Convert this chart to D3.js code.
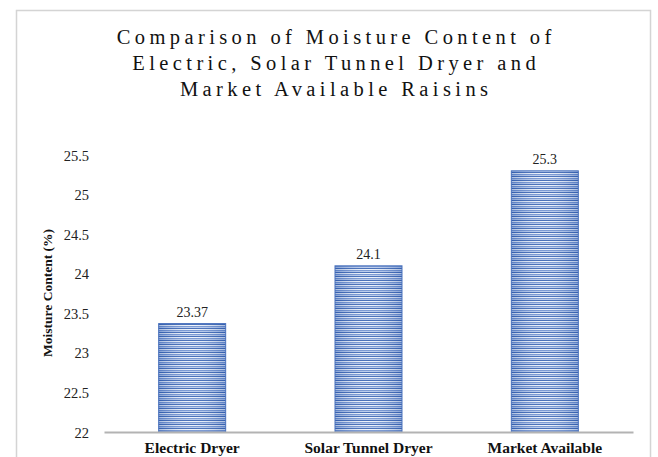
<!DOCTYPE html>
<html>
<head>
<meta charset="utf-8">
<script src="https://cdn.jsdelivr.net/npm/d3@7"></script>
<style>
  html, body { margin: 0; padding: 0; background: #fff; }
  svg { display: block; }
</style>
</head>
<body>
<svg id="chart" width="658" height="457"></svg>
<script>
// chart data
const categories = ['Electric Dryer', 'Solar Tunnel Dryer', 'Market Available'];
const moisture = [23.37, 24.1, 25.3];
const valueLabels = ['23.37', '24.1', '25.3'];
const yTicks = [22, 22.5, 23, 23.5, 24, 24.5, 25, 25.5];
const titleLines = [
  'Comparison of Moisture Content of',
  'Electric, Solar Tunnel Dryer and',
  'Market Available Raisins'
];

const svg = d3.select('#chart');
const serif = '"Liberation Serif", "Times New Roman", serif';

// outer frame
svg.append('rect')
  .attr('x', 16.5).attr('y', 10.5)
  .attr('width', 634).attr('height', 460)
  .attr('fill', '#fff')
  .attr('stroke', '#d4d4d4')
  .attr('stroke-width', 1.5);

// striped fill for bars
const defs = svg.append('defs');
const shade = defs.append('linearGradient')
  .attr('id', 'bar-shade')
  .attr('x1', 0).attr('x2', 1).attr('y1', 0).attr('y2', 0);
shade.append('stop').attr('offset', '0%').attr('stop-color', '#2f5aa8').attr('stop-opacity', 0.35);
shade.append('stop').attr('offset', '50%').attr('stop-color', '#ffffff').attr('stop-opacity', 0.1);
shade.append('stop').attr('offset', '100%').attr('stop-color', '#2f5aa8').attr('stop-opacity', 0.35);

const pat = defs.append('pattern')
  .attr('id', 'stripes')
  .attr('patternUnits', 'userSpaceOnUse')
  .attr('width', 10).attr('height', 4);
const rows = ['#3560b0', '#eef3fb', '#6f90cf', '#b6c8eb'];
rows.forEach((c, i) => {
  pat.append('rect').attr('x', 0).attr('y', i).attr('width', 10).attr('height', 1).attr('fill', c);
});

// scales
const x = d3.scaleBand()
  .domain(categories)
  .range([104, 633])
  .paddingInner(0.62)
  .paddingOuter(0.31);

const y = d3.scaleLinear()
  .domain([22, 25.5])
  .range([432, 155]);

// y axis ticks (no line)
const yAxis = svg.append('g')
  .attr('transform', 'translate(89,0)')
  .call(d3.axisLeft(y).tickValues(yTicks).tickSize(0).tickPadding(0).tickFormat(d3.format('')));
yAxis.select('.domain').remove();
yAxis.selectAll('text')
  .attr('font-family', serif)
  .attr('font-size', 14.5)
  .attr('fill', '#222')
  .attr('dy', '0.35em');

// bars
const bars = svg.append('g');
categories.forEach((c, i) => {
  const bx = x(c);
  const by = y(moisture[i]);
  const bh = y(22) - by;
  bars.append('rect')
    .attr('x', bx).attr('y', by)
    .attr('width', x.bandwidth()).attr('height', bh)
    .attr('fill', 'url(#stripes)');
  bars.append('rect')
    .attr('x', bx).attr('y', by)
    .attr('width', x.bandwidth()).attr('height', bh)
    .attr('fill', 'url(#bar-shade)')
    .attr('stroke', '#4a72bd')
    .attr('stroke-width', 1);
  svg.append('text')
    .attr('x', bx + x.bandwidth() / 2)
    .attr('y', by - 7)
    .attr('text-anchor', 'middle')
    .attr('font-family', serif)
    .attr('font-size', 14)
    .attr('fill', '#222')
    .text(valueLabels[i]);
});

// x axis
const xAxis = svg.append('g')
  .attr('transform', 'translate(0,432)')
  .call(d3.axisBottom(x).tickSize(0).tickPadding(10));
xAxis.select('.domain')
  .attr('stroke', '#b3b3b3')
  .attr('stroke-width', 2);
xAxis.selectAll('text')
  .attr('font-family', serif)
  .attr('font-size', 15.5)
  .attr('font-weight', 'bold')
  .attr('fill', '#111');

// y axis title
svg.append('text')
  .attr('transform', 'translate(52,293) rotate(-90)')
  .attr('text-anchor', 'middle')
  .attr('font-family', serif)
  .attr('font-size', 13.5)
  .attr('font-weight', 'bold')
  .attr('fill', '#111')
  .text('Moisture Content (%)');

// title (letter-spacing adds a trailing gap, so nudge right by half of it)
svg.append('g').selectAll('text')
  .data(titleLines)
  .join('text')
  .attr('x', 334 + 2.2)
  .attr('y', (d, i) => 44 + i * 26)
  .attr('text-anchor', 'middle')
  .attr('font-family', serif)
  .attr('font-size', 20.5)
  .attr('letter-spacing', 4.4)
  .attr('fill', '#111')
  .text(d => d);
</script>
</body>
</html>
